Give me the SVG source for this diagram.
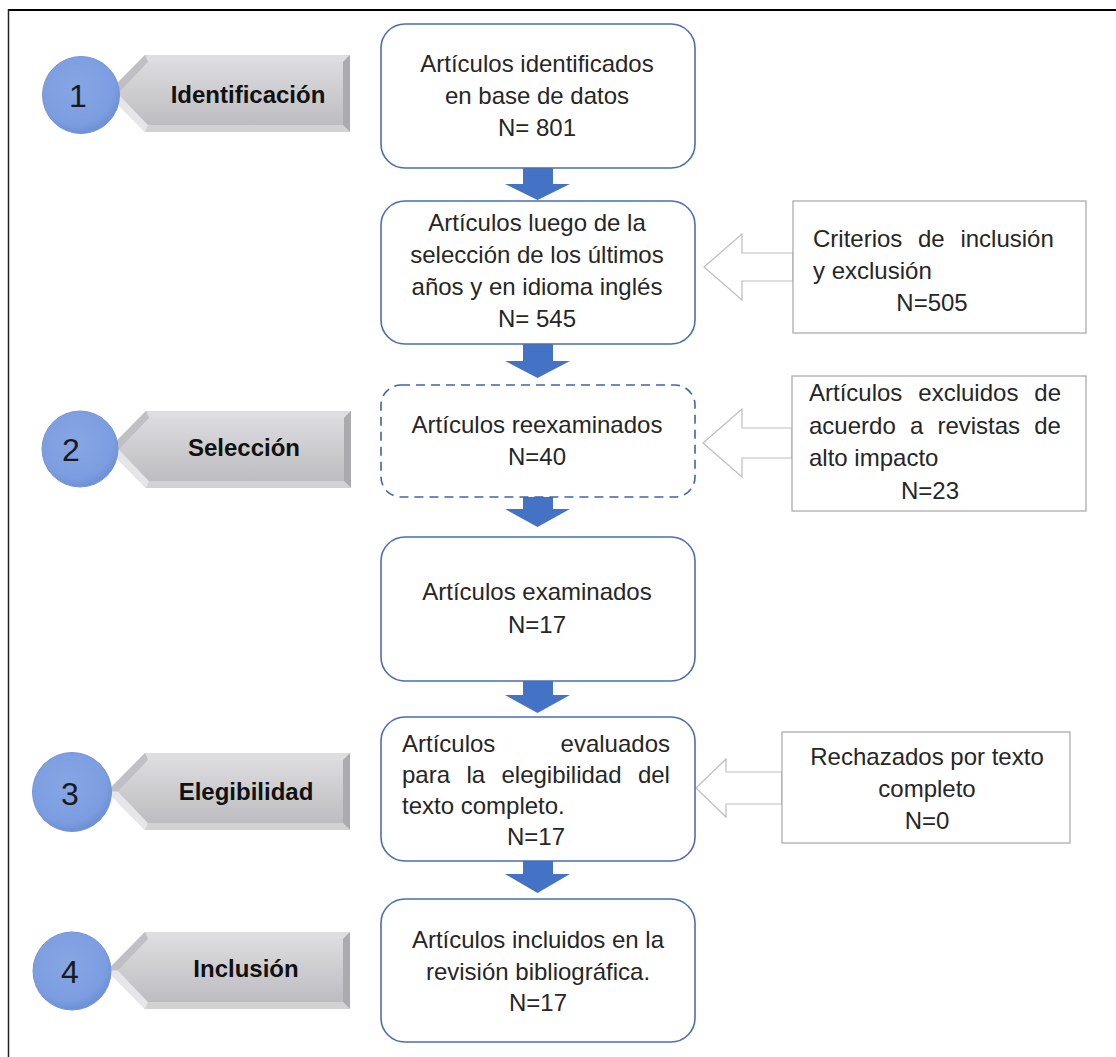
<svg xmlns="http://www.w3.org/2000/svg" xmlns:xlink="http://www.w3.org/1999/xlink" width="1116" height="1057" viewBox="0 0 1116 1057">
<style>
.box{fill:#fff;stroke:#4A6EB5;stroke-width:1.6}
.dash{fill:#fff;stroke:#3E64AD;stroke-width:1.6;stroke-dasharray:9 6}
.side{fill:#fff;stroke:#A6A6A6;stroke-width:1.2}
.hollow{fill:#fff;stroke:#BDBDBD;stroke-width:1.2}
.blk{fill:#4472C4}
.t{font-family:"Liberation Sans",Arial,sans-serif;font-size:24px;fill:#262626}
.c{text-anchor:middle}
.e{text-anchor:end}
.lab{font-family:"Liberation Sans",Arial,sans-serif;font-size:24px;font-weight:bold;fill:#111;text-anchor:middle}
.num{font-family:"Liberation Sans",Arial,sans-serif;font-size:32px;fill:#1a1a1a;text-anchor:middle}
.circ{fill:url(#cg);stroke:#7594D6;stroke-width:1}
</style>
<defs>
<radialGradient id="cg" cx="0.45" cy="0.4" r="0.6">
<stop offset="0" stop-color="#86A6E4"/>
<stop offset="0.8" stop-color="#7C9DE0"/>
<stop offset="1" stop-color="#6C8FD6"/>
</radialGradient>
<linearGradient id="face" x1="0" y1="0" x2="0" y2="1">
<stop offset="0" stop-color="#DCDCDF"/>
<stop offset="1" stop-color="#BDBDC1"/>
</linearGradient>
<g id="tab">
<polygon points="0,38.5 38,0 243,0 243,77 38,77" fill="#CCCCCF"/>
<polygon points="38,0 243,0 236,7 41,7" fill="#DEDEE0"/>
<polygon points="243,0 243,77 236,70 236,7" fill="#ABABAF"/>
<polygon points="38,77 243,77 236,70 41,70" fill="#D2D2D5"/>
<polygon points="0,38.5 38,0 41,7 11,38.5" fill="#C0C0C4"/>
<polygon points="0,38.5 11,38.5 41,70 38,77" fill="#E6E6E8"/>
<polygon points="11,38.5 41,7 236,7 236,70 41,70" fill="url(#face)"/>
</g>
</defs>
<rect width="1116" height="1057" fill="#fff"/>
<g id="frame">
<line x1="8" y1="10" x2="1116" y2="10" stroke="#000" stroke-width="2"/>
<line x1="8.5" y1="9" x2="8.5" y2="1057" stroke="#222" stroke-width="1.5"/>
</g>

<g id="connectors">
<polygon class="blk" points="523,168 553,168 553,184 570,184 537.5,200 505,184 523,184"/>
<polygon class="blk" points="523,344 553,344 553,361 570,361 537.5,378 505,361 523,361"/>
<polygon class="blk" points="523,497 553,497 553,509 570,509 537.5,527 505,509 523,509"/>
<polygon class="blk" points="523,681 553,681 553,695 570,695 537.5,713 505,695 523,695"/>
<polygon class="blk" points="523,861 553,861 553,874 570,874 537.5,893 505,874 523,874"/>
<polygon class="hollow" points="704,267 742,234 742,253 793,253 793,281 742,281 742,300"/>
<polygon class="hollow" points="703,443 742,409 742,428 792,428 792,458 742,458 742,477"/>
<polygon class="hollow" points="696,788 726,759 726,772 782,772 782,804 726,804 726,817"/>
</g>

<g id="step1">
<use xlink:href="#tab" href="#tab" x="107" y="55"/>
<circle class="circ" cx="81" cy="95" r="38.5"/>
<text class="num" x="78" y="107">1</text>
<text class="lab" x="248" y="103">Identificación</text>
</g>
<g id="step2">
<use xlink:href="#tab" href="#tab" x="108" y="411"/>
<circle class="circ" cx="80" cy="449" r="38"/>
<text class="num" x="71" y="461">2</text>
<text class="lab" x="244" y="456">Selección</text>
</g>
<g id="step3">
<use xlink:href="#tab" href="#tab" x="107" y="753"/>
<circle class="circ" cx="72" cy="792" r="39.5"/>
<text class="num" x="70" y="805">3</text>
<text class="lab" x="246" y="800">Elegibilidad</text>
</g>
<g id="step4">
<use xlink:href="#tab" href="#tab" x="107" y="932"/>
<circle class="circ" cx="72" cy="971" r="39"/>
<text class="num" x="70" y="983">4</text>
<text class="lab" x="246" y="977">Inclusión</text>
</g>

<g id="box1">
<rect class="box" x="381" y="24" width="314" height="144" rx="24"/>
<text class="t c" x="537" y="72">Artículos identificados</text>
<text class="t c" x="537" y="104">en base de datos</text>
<text class="t c" x="537" y="136">N= 801</text>
</g>
<g id="box2">
<rect class="box" x="381" y="201" width="314" height="143" rx="24"/>
<text class="t c" x="537" y="231">Artículos luego de la</text>
<text class="t c" x="537" y="263">selección de los últimos</text>
<text class="t c" x="537" y="295">años y en idioma inglés</text>
<text class="t c" x="537" y="327">N= 545</text>
</g>
<g id="box3">
<rect class="dash" x="381" y="385" width="314" height="112" rx="20"/>
<text class="t c" x="537" y="433">Artículos reexaminados</text>
<text class="t c" x="537" y="465">N=40</text>
</g>
<g id="box4">
<rect class="box" x="381" y="537" width="314" height="144" rx="24"/>
<text class="t c" x="537" y="600">Artículos examinados</text>
<text class="t c" x="537" y="633">N=17</text>
</g>
<g id="box5">
<rect class="box" x="381" y="717" width="314" height="144" rx="24"/>
<text class="t" x="402" y="752">Artículos</text>
<text class="t e" x="670" y="752">evaluados</text>
<text class="t" x="402" y="783" word-spacing="9.7">para la elegibilidad del</text>
<text class="t" x="402" y="814">texto completo.</text>
<text class="t c" x="536" y="845">N=17</text>
</g>
<g id="box6">
<rect class="box" x="381" y="899" width="314" height="143" rx="24"/>
<text class="t c" x="538" y="948">Artículos incluidos en la</text>
<text class="t c" x="538" y="980">revisión bibliográfica.</text>
<text class="t c" x="538" y="1011">N=17</text>
</g>

<g id="sideA">
<rect class="side" x="793" y="201" width="293" height="132"/>
<text class="t" x="813" y="247" word-spacing="9">Criterios de inclusión</text>
<text class="t" x="813" y="279">y exclusión</text>
<text class="t c" x="932" y="311">N=505</text>
</g>
<g id="sideB">
<rect class="side" x="792" y="376" width="294" height="135"/>
<text class="t" x="809" y="401" word-spacing="9.3">Artículos excluidos de</text>
<text class="t" x="809" y="434" word-spacing="7.5">acuerdo a revistas de</text>
<text class="t" x="809" y="466">alto impacto</text>
<text class="t c" x="930" y="499">N=23</text>
</g>
<g id="sideC">
<rect class="side" x="782" y="732" width="288" height="111"/>
<text class="t c" x="927" y="765">Rechazados por texto</text>
<text class="t c" x="927" y="797">completo</text>
<text class="t c" x="927" y="829">N=0</text>
</g>
</svg>
